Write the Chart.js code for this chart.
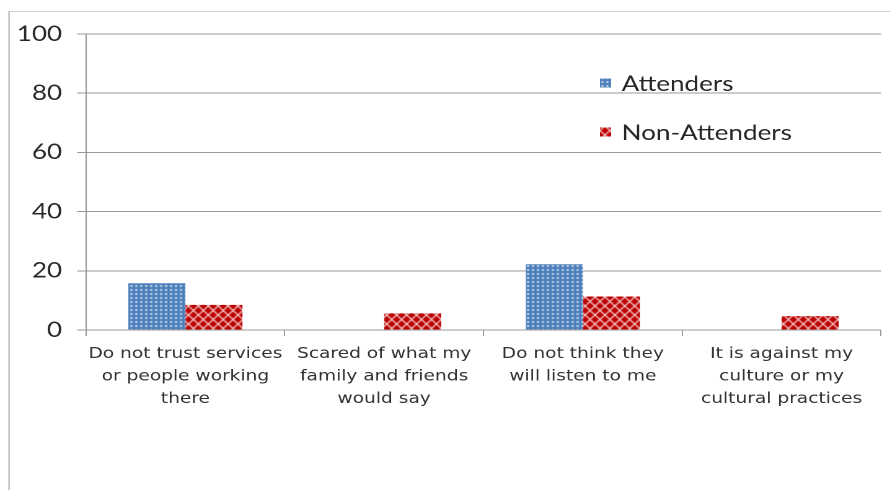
<!DOCTYPE html>
<html>
<head>
<meta charset="utf-8">
<script src="https://cdn.jsdelivr.net/npm/chart.js@4"></script>
<style>
  html, body { margin: 0; padding: 0; background: #fff; overflow: hidden; }
  #wrap { width: 718px; height: 490px; transform: scaleX(1.2396); transform-origin: 0 0; }
</style>
</head>
<body>
<div id="wrap"><canvas id="chart" width="718" height="490"></canvas></div>
<script>
const categories = [
  ["Do not trust services", "or people working", "there"],
  ["Scared of what my", "family and friends", "would say"],
  ["Do not think they", "will listen to me"],
  ["It is against my", "culture or my", "cultural practices"]
];
const seriesNames = ["Attenders", "Non-Attenders"];
const attenders = [15.8, 0, 22.2, 0];
const nonAttenders = [8.5, 5.6, 11.3, 4.7];
const yTicks = [0, 20, 40, 60, 80, 100];

// small fill patterns: white dots on blue, white lattice on dark red
function dotPattern() {
  const c = document.createElement("canvas");
  c.width = 4; c.height = 4;
  const g = c.getContext("2d");
  g.fillStyle = "#4a7ebb"; g.fillRect(0, 0, 4, 4);
  g.fillStyle = "rgba(255,255,255,0.9)";
  g.beginPath(); g.arc(2, 2, 0.9, 0, Math.PI * 2); g.fill();
  return g.createPattern(c, "repeat");
}
function latticePattern() {
  const c = document.createElement("canvas");
  c.width = 8; c.height = 9;
  const g = c.getContext("2d");
  g.fillStyle = "#bb0000"; g.fillRect(0, 0, 8, 9);
  g.strokeStyle = "rgba(255,230,230,0.95)"; g.lineWidth = 1.1;
  g.beginPath();
  g.moveTo(0, 0); g.lineTo(8, 9);
  g.moveTo(8, 0); g.lineTo(0, 9);
  g.stroke();
  return g.createPattern(c, "repeat");
}

const frame = {
  id: "frame",
  beforeDraw(chart) {
    const ctx = chart.ctx;
    ctx.save();
    ctx.fillStyle = "#fff"; ctx.fillRect(0, 0, chart.width, chart.height);
    ctx.strokeStyle = "#cfcfcf"; ctx.lineWidth = 1;
    ctx.beginPath(); ctx.moveTo(7.3, 11.5); ctx.lineTo(chart.width, 11.5); ctx.stroke();
    ctx.strokeStyle = "#a8a8a8";
    ctx.beginPath(); ctx.moveTo(7.3, 11.5); ctx.lineTo(7.3, chart.height); ctx.stroke();
    ctx.restore();
  }
};

const boxLegend = {
  id: "boxLegend",
  afterDraw(chart) {
    const ctx = chart.ctx;
    const rows = [83, 132];
    ctx.save();
    ctx.font = "21px Lato";
    ctx.textBaseline = "middle";
    chart.data.datasets.forEach((ds, i) => {
      const y = rows[i];
      ctx.fillStyle = ds.backgroundColor;
      ctx.fillRect(484, y - 4.5, 9, 9);
      ctx.fillStyle = "#262626";
      ctx.fillText(ds.label, 501.5, y + 1);
    });
    ctx.restore();
  }
};

new Chart(document.getElementById("chart"), {
  type: "bar",
  data: {
    labels: categories,
    datasets: [
      { label: seriesNames[0], data: attenders, backgroundColor: dotPattern() },
      { label: seriesNames[1], data: nonAttenders, backgroundColor: latticePattern() }
    ]
  },
  options: {
    responsive: false, animation: false, devicePixelRatio: 2,
    layout: { padding: { left: 0, top: 34, right: 7.3, bottom: 0 } },
    datasets: { bar: { categoryPercentage: 0.574, barPercentage: 1.0 } },
    plugins: { legend: { display: false }, tooltip: { enabled: false } },
    scales: {
      x: {
        grid: { display: true, drawOnChartArea: false, drawTicks: true, tickLength: 6, color: "#9a9a9a", offset: true },
        border: { color: "#9a9a9a" },
        ticks: { color: "#333", padding: 7, maxRotation: 0, autoSkip: false, font: { family: "DejaVu Sans", size: 15, lineHeight: 1.5 } },
        afterFit: s => { s.height = 160; }
      },
      y: {
        min: 0, max: 100,
        afterBuildTicks: s => { s.ticks = yTicks.map(v => ({ value: v })); },
        grid: { color: "#9a9a9a", tickLength: 7.3 },
        border: { color: "#9a9a9a" },
        ticks: { color: "#2a2a2a", padding: 12, font: { family: "Lato", size: 21 } },
        afterFit: s => { s.width = 69.4; }
      }
    }
  },
  plugins: [frame, boxLegend]
});
</script>
</body>
</html>
